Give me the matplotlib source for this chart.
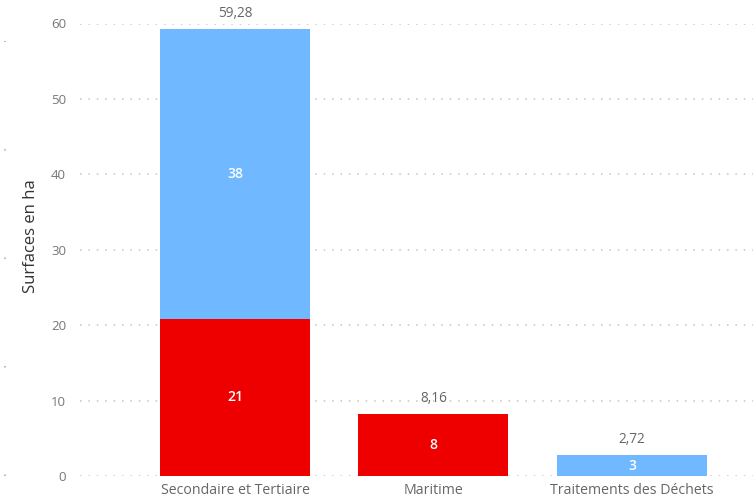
import matplotlib
matplotlib.use("Agg")
import matplotlib.pyplot as plt
from matplotlib.lines import Line2D
import numpy as np

categories = ["Secondaire et Tertiaire", "Maritime", "Traitements des Déchets"]
red_values = [20.88, 8.16, 0.0]
blue_values = [38.40, 0.0, 2.72]
y_ticks = [0, 10, 20, 30, 40, 50, 60]

RED = "#EE0000"
BLUE = "#70B8FF"
GREY = "#777777"

plt.rcParams["font.family"] = ["Open Sans", "DejaVu Sans"]

W, H = 753, 501
fig = plt.figure(figsize=(W / 100, H / 100), dpi=100)
ax = fig.add_axes([80 / W, 25 / H, (W - 80) / W, 452.5 / H])

x = np.arange(len(categories))
red = np.array(red_values)
blue = np.array(blue_values)
width = 0.756

ax.bar(x, red, width=width, color=RED, zorder=3)
ax.bar(x, blue, width=width, bottom=red, color=BLUE, zorder=3)

# segment labels
for xi, r, b in zip(x, red, blue):
    if r > 0:
        ax.text(xi, r / 2, f"{r:.0f}", ha="center", va="center",
                color="white", fontsize=10, fontweight="semibold", zorder=4)
    if b > 0:
        ax.text(xi, r + b / 2, f"{b:.0f}", ha="center", va="center",
                color="white", fontsize=10, fontweight="semibold", zorder=4)
    total = r + b
    ax.text(xi, total + 1.1, f"{total:.2f}".replace(".", ","),
            ha="center", va="bottom", color="#666666", fontsize=9.8, clip_on=False)

ax.set_xlim(-0.781, 2.61)
ax.set_ylim(0, 60)
ax.set_yticks(y_ticks)
ax.set_yticklabels([str(t) for t in y_ticks])
ax.set_xticks(x)
ax.set_xticklabels(categories)
ax.tick_params(axis="y", length=0, pad=10, labelsize=9.5, labelcolor=GREY)
ax.tick_params(axis="x", length=0, pad=5, labelsize=10.2, labelcolor="#666666")

ax.grid(axis="y", linestyle=(0, (1, 4.5)), color="#C4C4C4", linewidth=1.1, zorder=0)
ax.grid(axis="x", visible=False)
for s in ax.spines.values():
    s.set_visible(False)

ax.set_ylabel("Surfaces en ha", fontsize=12, color="#333333")
ax.yaxis.set_label_coords((39 - 80) / (W - 80), (476 - 236) / 452.5)

# faint dotted rule along the left edge
lw = 1.5
period_pt = 108.5 * 72 / 100 / lw
fig.add_artist(Line2D([5 / W, 5 / W], [25 / H, 460 / H], transform=fig.transFigure,
                      linestyle=(0, (0.7, period_pt - 0.7)), color="#BBBBBB",
                      linewidth=lw, solid_capstyle="butt", dash_capstyle="butt"))

fig.savefig("out.png", dpi=100)
